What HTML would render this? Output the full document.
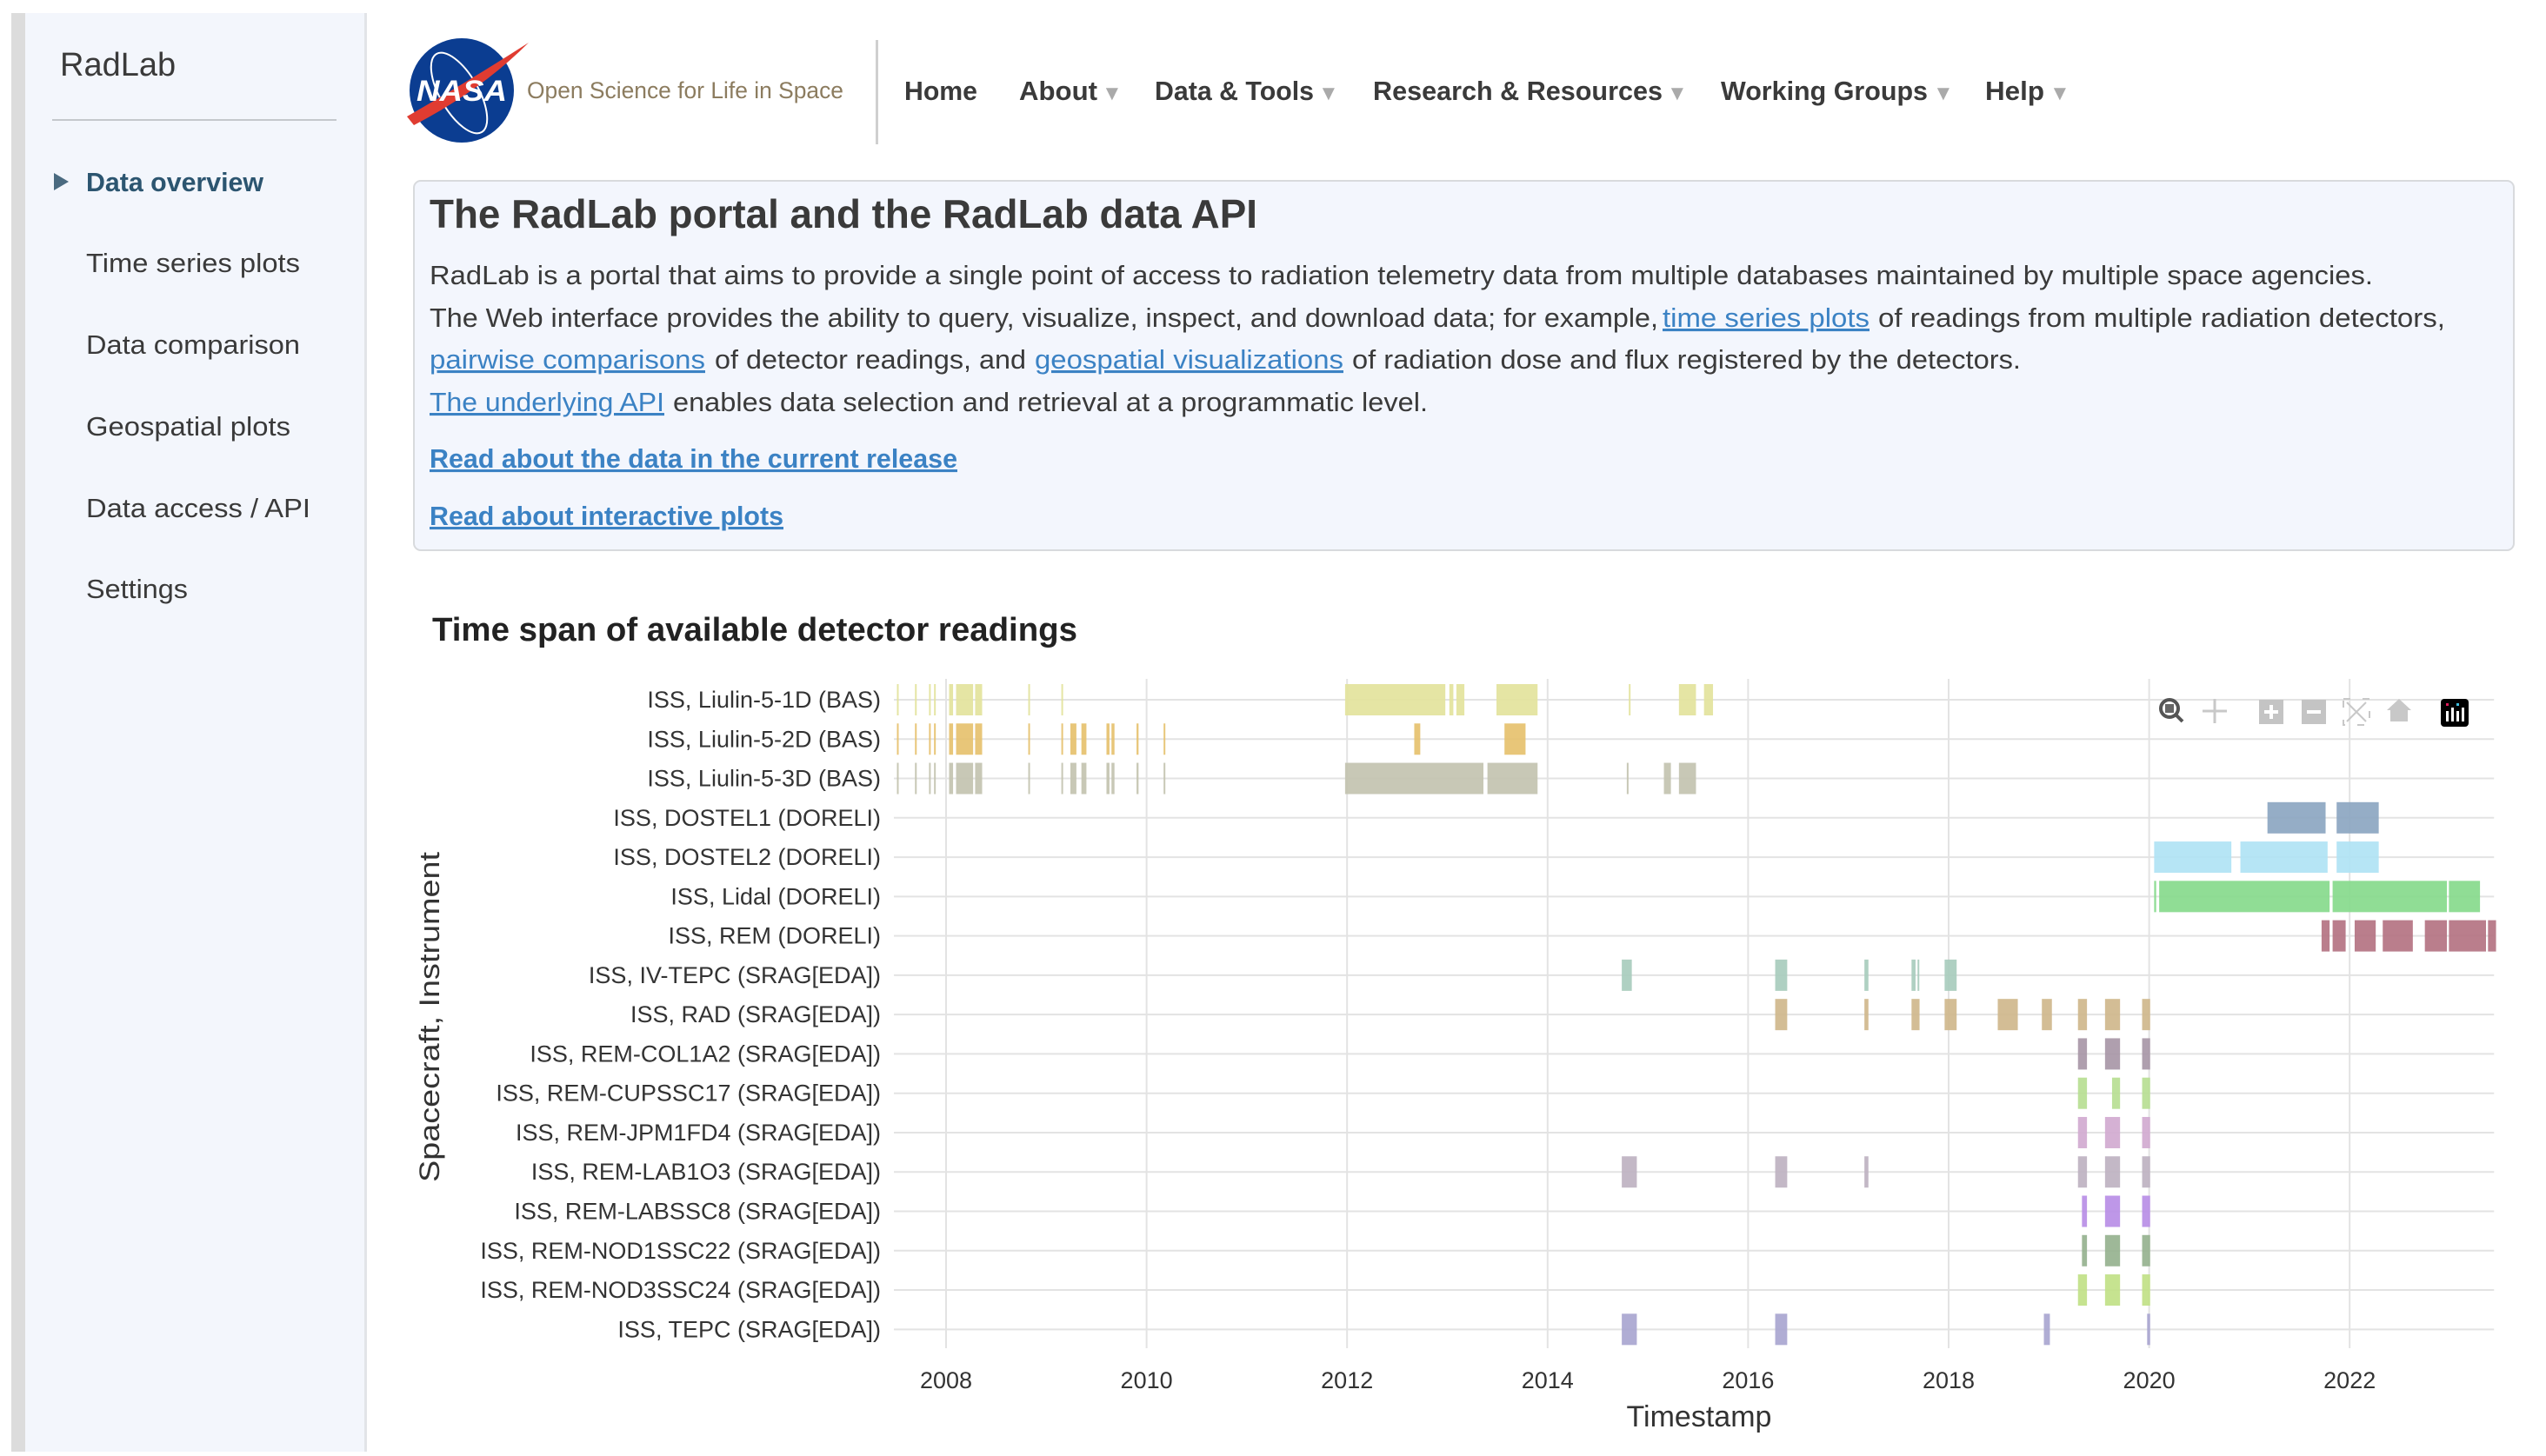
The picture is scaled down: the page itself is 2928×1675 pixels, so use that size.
<!DOCTYPE html>
<html><head><meta charset="utf-8">
<style>
html,body{margin:0;padding:0;background:#fff;}
body{width:2928px;height:1670px;overflow:hidden;position:relative;font-family:"Liberation Sans",Arial,sans-serif;}
svg text{font-family:"Liberation Sans",Arial,sans-serif;}
</style></head>
<body>
<svg width="2928" height="1670" viewBox="0 0 2928 1670" xmlns="http://www.w3.org/2000/svg">
  <!-- sidebar -->
  <rect x="13" y="15" width="16" height="1655" fill="#dcdcdc"/>
  <rect x="29" y="15" width="390" height="1655" fill="#f3f6fc"/>
  <rect x="419" y="15" width="3" height="1655" fill="#e2e4e8"/>
  <text x="69" y="87" font-size="38" fill="#3a3a3a">RadLab</text>
  <rect x="60" y="137" width="327" height="2" fill="#c4c8cc"/>
  <polygon points="62,199 62,219 79,209" fill="#4a6a80"/>
  <text x="99" y="220" font-size="31" fill="#2c5570" font-weight="bold" textLength="204" lengthAdjust="spacingAndGlyphs">Data overview</text>
  <text x="99" y="313" font-size="31" fill="#3a3a3a" textLength="246" lengthAdjust="spacingAndGlyphs">Time series plots</text>
  <text x="99" y="407" font-size="31" fill="#3a3a3a" textLength="246" lengthAdjust="spacingAndGlyphs">Data comparison</text>
  <text x="99" y="501" font-size="31" fill="#3a3a3a" textLength="235" lengthAdjust="spacingAndGlyphs">Geospatial plots</text>
  <text x="99" y="595" font-size="31" fill="#3a3a3a" textLength="258" lengthAdjust="spacingAndGlyphs">Data access / API</text>
  <text x="99" y="688" font-size="31" fill="#3a3a3a" textLength="117" lengthAdjust="spacingAndGlyphs">Settings</text>

  <!-- header -->
  <g>
    <circle cx="531" cy="104" r="60" fill="#0b3d91"/>
    <ellipse cx="528" cy="107" rx="22" ry="52" fill="none" stroke="#fff" stroke-width="2" transform="rotate(-30 528 107)"/>
    <path d="M468,134 Q538,94 608,49 Q553,104 476,144 Z" fill="#e03c31"/>
    <text x="531" y="116" font-size="34" font-weight="bold" fill="#fff" text-anchor="middle" font-style="italic" textLength="104" lengthAdjust="spacingAndGlyphs">NASA</text>
  </g>
  <text x="606" y="113" font-size="27" fill="#8c7c5f" textLength="364" lengthAdjust="spacingAndGlyphs">Open Science for Life in Space</text>
  <rect x="1007" y="46" width="3" height="120" fill="#cfcfcf"/>
  <text x="1040" y="115" font-size="31" font-weight="bold" fill="#3a3a3a" textLength="84" lengthAdjust="spacingAndGlyphs">Home</text>
  <text x="1172" y="115" font-size="31" font-weight="bold" fill="#3a3a3a" textLength="90" lengthAdjust="spacingAndGlyphs">About</text>
  <text x="1267" y="115" font-size="24" fill="#aaa">▼</text>
  <text x="1328" y="115" font-size="31" font-weight="bold" fill="#3a3a3a" textLength="183" lengthAdjust="spacingAndGlyphs">Data &amp; Tools</text>
  <text x="1516" y="115" font-size="24" fill="#aaa">▼</text>
  <text x="1579" y="115" font-size="31" font-weight="bold" fill="#3a3a3a" textLength="333" lengthAdjust="spacingAndGlyphs">Research &amp; Resources</text>
  <text x="1917" y="115" font-size="24" fill="#aaa">▼</text>
  <text x="1979" y="115" font-size="31" font-weight="bold" fill="#3a3a3a" textLength="238" lengthAdjust="spacingAndGlyphs">Working Groups</text>
  <text x="2223" y="115" font-size="24" fill="#aaa">▼</text>
  <text x="2283" y="115" font-size="31" font-weight="bold" fill="#3a3a3a" textLength="68" lengthAdjust="spacingAndGlyphs">Help</text>
  <text x="2357" y="115" font-size="24" fill="#aaa">▼</text>

  <!-- info box -->
  <rect x="476" y="208" width="2415" height="425" rx="8" fill="#f3f6fd" stroke="#d8dadd" stroke-width="2"/>
  <text x="494" y="262" font-size="46" fill="#3a3a3a" font-weight="bold" textLength="952" lengthAdjust="spacingAndGlyphs">The RadLab portal and the RadLab data API</text>
  <g font-size="31" fill="#3a3a3a">
    <text x="494" y="327" textLength="2235" lengthAdjust="spacingAndGlyphs">RadLab is a portal that aims to provide a single point of access to radiation telemetry data from multiple databases maintained by multiple space agencies.</text>
    <text x="494" y="376" textLength="1413" lengthAdjust="spacingAndGlyphs">The Web interface provides the ability to query, visualize, inspect, and download data; for example,</text>
    <text x="1912" y="376" fill="#3b82c4" text-decoration="underline" textLength="238" lengthAdjust="spacingAndGlyphs">time series plots</text>
    <text x="2160" y="376" textLength="652" lengthAdjust="spacingAndGlyphs">of readings from multiple radiation detectors,</text>
    <text x="494" y="424" fill="#3b82c4" text-decoration="underline" textLength="317" lengthAdjust="spacingAndGlyphs">pairwise comparisons</text>
    <text x="822" y="424" textLength="358" lengthAdjust="spacingAndGlyphs">of detector readings, and</text>
    <text x="1190" y="424" fill="#3b82c4" text-decoration="underline" textLength="355" lengthAdjust="spacingAndGlyphs">geospatial visualizations</text>
    <text x="1555" y="424" textLength="769" lengthAdjust="spacingAndGlyphs">of radiation dose and flux registered by the detectors.</text>
    <text x="494" y="473" fill="#3b82c4" text-decoration="underline" textLength="270" lengthAdjust="spacingAndGlyphs">The underlying API</text>
    <text x="774" y="473" textLength="868" lengthAdjust="spacingAndGlyphs">enables data selection and retrieval at a programmatic level.</text>
  </g>
  <text x="494" y="538" font-size="31" font-weight="bold" fill="#3b82c4" text-decoration="underline" textLength="607" lengthAdjust="spacingAndGlyphs">Read about the data in the current release</text>
  <text x="494" y="604" font-size="31" font-weight="bold" fill="#3b82c4" text-decoration="underline" textLength="407" lengthAdjust="spacingAndGlyphs">Read about interactive plots</text>

  <!-- chart -->
  <text x="497" y="737" font-size="38" fill="#222" font-weight="bold" textLength="742" lengthAdjust="spacingAndGlyphs">Time span of available detector readings</text>
  <g id="chart"></g>
  <text x="0" y="0" font-size="32" fill="#333" text-anchor="middle" transform="translate(505 1170) rotate(-90)" textLength="380" lengthAdjust="spacingAndGlyphs">Spacecraft, Instrument</text>
  <text x="1954" y="1641" font-size="34" fill="#333" text-anchor="middle">Timestamp</text>

  <!-- modebar -->
  <g transform="translate(-13 -4)">
    <g><circle cx="2508" cy="819" r="10" fill="none" stroke="#555" stroke-width="4"/><rect x="2503" y="814" width="10" height="10" fill="#666"/><line x1="2515" y1="826" x2="2523" y2="834" stroke="#555" stroke-width="4"/></g>
    <g stroke="#c8c8c8" stroke-width="3"><line x1="2546" y1="822" x2="2574" y2="822"/><line x1="2560" y1="808" x2="2560" y2="836"/></g>
    <g><rect x="2611" y="809" width="28" height="28" fill="#c4c4c4"/><rect x="2617" y="821" width="16" height="4" fill="#fff"/><rect x="2623" y="815" width="4" height="16" fill="#fff"/></g>
    <g><rect x="2660" y="809" width="28" height="28" fill="#c4c4c4"/><rect x="2666" y="821" width="16" height="4" fill="#fff"/></g>
    <g stroke="#c8c8c8" stroke-width="2" fill="none"><rect x="2708" y="808" width="30" height="30" stroke-dasharray="8 14"/><line x1="2712" y1="812" x2="2734" y2="834"/><line x1="2734" y1="812" x2="2712" y2="834"/></g>
    <g><polygon points="2772,808 2786,821 2782,821 2782,834 2762,834 2762,821 2758,821" fill="#c8c8c8"/></g>
    <g><rect x="2820" y="808" width="32" height="32" rx="4" fill="#000"/><rect x="2826" y="822" width="3" height="12" fill="#fff"/><rect x="2832" y="818" width="3" height="16" fill="#fff"/><rect x="2838" y="822" width="3" height="12" fill="#fff"/><rect x="2844" y="818" width="3" height="16" fill="#fff"/><rect x="2826" y="813" width="3" height="3" fill="#e01c5a"/><rect x="2838" y="813" width="3" height="3" fill="#3fc0e0"/></g>
  </g>
</svg>
<script>
const rowLabels = ["ISS, Liulin-5-1D (BAS)","ISS, Liulin-5-2D (BAS)","ISS, Liulin-5-3D (BAS)","ISS, DOSTEL1 (DORELI)","ISS, DOSTEL2 (DORELI)","ISS, Lidal (DORELI)","ISS, REM (DORELI)","ISS, IV-TEPC (SRAG[EDA])","ISS, RAD (SRAG[EDA])","ISS, REM-COL1A2 (SRAG[EDA])","ISS, REM-CUPSSC17 (SRAG[EDA])","ISS, REM-JPM1FD4 (SRAG[EDA])","ISS, REM-LAB1O3 (SRAG[EDA])","ISS, REM-LABSSC8 (SRAG[EDA])","ISS, REM-NOD1SSC22 (SRAG[EDA])","ISS, REM-NOD3SSC24 (SRAG[EDA])","ISS, TEPC (SRAG[EDA])"];
const rowColors = ["#e2e29a","#e6c06a","#c2c2ae","#8aa4c0","#aee2f4","#84d98a","#b3707f","#a6cbbb","#ceb68a","#a695a5","#b6de90","#d0a8cf","#bdb0c0","#b78ce6","#93b08d","#c0e084","#a7a4cf"];
const early = [[2007.51,2007.52],[2007.69,2007.70],[2007.83,2007.84],[2007.88,2007.89],[2008.03,2008.07],[2008.10,2008.27],[2008.29,2008.36],[2008.82,2008.83]];
const intervals1D = early.concat([[2009.15,2009.16],[2011.98,2012.98],[2013.02,2013.06],[2013.09,2013.17],[2013.49,2013.90],[2014.81,2014.82],[2015.31,2015.48],[2015.56,2015.65]]);
const intervals2D = early.concat([[2009.15,2009.16],[2009.24,2009.30],[2009.35,2009.40],[2009.60,2009.63],[2009.65,2009.68],[2009.90,2009.92],[2010.17,2010.18],[2012.67,2012.73],[2013.57,2013.78]]);
const intervals3D = early.concat([[2009.15,2009.16],[2009.24,2009.30],[2009.35,2009.40],[2009.60,2009.63],[2009.65,2009.68],[2009.90,2009.92],[2010.17,2010.18],[2011.98,2013.36],[2013.40,2013.90],[2014.79,2014.80],[2015.16,2015.23],[2015.31,2015.48]]);
const intervalsDostel1 = [[2021.18,2021.76],[2021.87,2022.29]];
const intervalsDostel2 = [[2020.05,2020.82],[2020.91,2021.78],[2021.87,2022.29]];
const intervalsLidal = [[2020.05,2020.07],[2020.10,2021.80],[2021.83,2022.97],[2022.99,2023.30]];
const intervalsREM = [[2021.72,2021.80],[2021.83,2021.96],[2022.05,2022.26],[2022.33,2022.63],[2022.75,2022.97],[2022.99,2023.36],[2023.38,2023.46]];
const intervalsIVTEPC = [[2014.74,2014.84],[2016.27,2016.39],[2017.16,2017.20],[2017.63,2017.67],[2017.69,2017.70],[2017.96,2018.08]];
const intervalsRAD = [[2016.27,2016.39],[2017.16,2017.20],[2017.63,2017.71],[2017.96,2018.08],[2018.49,2018.69],[2018.93,2019.03],[2019.29,2019.38],[2019.56,2019.71],[2019.93,2020.01]];
const remTriple = [[2019.29,2019.38],[2019.56,2019.71],[2019.93,2020.01]];
const intervalsCUP = [[2019.29,2019.38],[2019.63,2019.71],[2019.93,2020.01]];
const intervalsLAB1O3 = [[2014.74,2014.89],[2016.27,2016.39],[2017.16,2017.20]].concat(remTriple);
const intervalsLABSSC8 = [[2019.33,2019.38],[2019.56,2019.71],[2019.93,2020.01]];
const intervalsTEPC = [[2014.74,2014.89],[2016.27,2016.39],[2018.95,2019.01],[2019.98,2020.01]];
const rowIntervals = [intervals1D,intervals2D,intervals3D,intervalsDostel1,intervalsDostel2,intervalsLidal,intervalsREM,intervalsIVTEPC,intervalsRAD,remTriple,intervalsCUP,remTriple,intervalsLAB1O3,intervalsLABSSC8,intervalsLABSSC8,remTriple,intervalsTEPC];
const xTicks = [2008,2010,2012,2014,2016,2018,2020,2022];

const NS = "http://www.w3.org/2000/svg";
const X0 = 1088, PXY = 115.3, DOMAIN = [2007.48, 2023.44];
const Y0 = 805, ROWSTEP = 45.27, BARH = 36, PLOT_TOP = 781, PLOT_BOTTOM = 1551;
function xScale(v){ return X0 + (v - 2008) * PXY; }
function yScale(i){ return Y0 + i * ROWSTEP; }
const chart = document.getElementById("chart");
function mk(tag, attrs){ const e = document.createElementNS(NS, tag); for (const k in attrs) e.setAttribute(k, attrs[k]); chart.appendChild(e); return e; }
const xl = xScale(DOMAIN[0]), xr = xScale(DOMAIN[1]);
xTicks.forEach(function(t){
  const g = mk("line", {x1: xScale(t), x2: xScale(t), y1: PLOT_TOP, y2: PLOT_BOTTOM, stroke: "#e3e3e3", "stroke-width": 2});
  
  
  const lb = mk("text", {x: xScale(t), y: 1597, "font-size": 27, fill: "#333", "text-anchor": "middle"});
  lb.textContent = t;
  
  
});
rowLabels.forEach(function(lab, i){
  const y = yScale(i);
  const ln = mk("line", {x1: xl, x2: xr, y1: y, y2: y, stroke: "#e3e3e3", "stroke-width": 2});
  
  
  const tx = mk("text", {x: 1013, y: y + 9, "font-size": 27, fill: "#333", "text-anchor": "end"});
  tx.textContent = lab;
  
  
});
rowIntervals.forEach(function(list, i){
  list.forEach(function(iv){
    const x1 = xScale(iv[0]), x2 = xScale(iv[1]);
    const r = mk("rect", {x: x1, y: yScale(i) - BARH/2, width: Math.max(2, x2 - x1), height: BARH, fill: rowColors[i], "fill-opacity": 0.9});
    
    
  });
});
</script>
</body></html>
